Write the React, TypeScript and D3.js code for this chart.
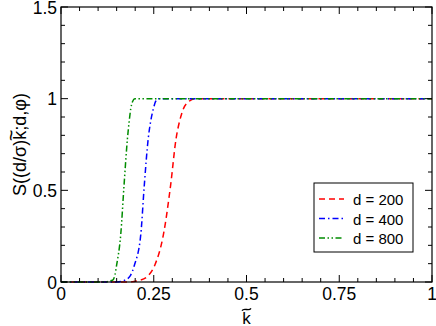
import React from 'react';
import * as d3 from 'd3';

// values: [k, S]
const red200: [number, number][] = [
  [0, 0], [0.18, 0], [0.213, 0.01], [0.235, 0.035], [0.253, 0.093], [0.276, 0.258],
  [0.2956, 0.53], [0.31, 0.78], [0.32, 0.88], [0.33, 0.945], [0.345, 0.985], [0.361, 1], [1, 1],
];
const blue400: [number, number][] = [
  [0, 0], [0.15, 0], [0.172, 0.01], [0.187, 0.035], [0.198, 0.093], [0.215, 0.258],
  [0.2246, 0.53], [0.235, 0.78], [0.242, 0.88], [0.249, 0.945], [0.255, 0.985], [0.262, 1], [1, 1],
];
const green800: [number, number][] = [
  [0, 0], [0.11, 0], [0.139, 0.01], [0.145, 0.035], [0.15, 0.093], [0.161, 0.258],
  [0.17, 0.53], [0.179, 0.78], [0.184, 0.88], [0.188, 0.945], [0.193, 0.985], [0.199, 1], [1, 1],
];

const seriesNames = ['d = 200', 'd = 400', 'd = 800'];
const xMajor = [0, 0.25, 0.5, 0.75, 1];
const xMajorLabels = ['0', '0.25', '0.5', '0.75', '1'];
const yMajor = [0, 0.5, 1, 1.5];
const yMajorLabels = ['0', '0.5', '1', '1.5'];

const W = 436;
const H = 326;
const left = 61, right = 432, top = 7, bottom = 282;
const font = 'Liberation Sans, Arial, Helvetica, sans-serif';

// small tilde accent centred on (cx, cy)
const tildePath = (cx: number, cy: number, w: number) =>
  `M${cx - w / 2},${cy + 1.2} C${cx - w / 4},${cy - 2.5} ${cx + w / 4},${cy + 2.5} ${cx + w / 2},${cy - 1.2}`;

export default function App() {
  const x = d3.scaleLinear().domain([0, 1]).range([left, right]);
  const y = d3.scaleLinear().domain([0, 1.5]).range([bottom, top]);

  const line = d3.line<[number, number]>()
    .x(d => x(d[0]))
    .y(d => y(d[1]))
    .curve(d3.curveMonotoneX);

  const series = [
    { data: red200, color: '#ff0000', dash: '6,4' },
    { data: blue400, color: '#0000ff', dash: '6,3,1.5,3' },
    { data: green800, color: '#008c00', dash: '6,2.5,1.5,2.5,1.5,2.5' },
  ];

  const xMinor = d3.range(0, 1.0001, 0.05).filter(v => !xMajor.some(m => Math.abs(m - v) < 1e-6));
  const yMinor = d3.range(0, 1.5001, 0.1).filter(v => !yMajor.some(m => Math.abs(m - v) < 1e-6));
  const major = 7, minor = 4;

  const legX = 314, legY = 183, legW = 99, legH = 69;
  const rowY = [199, 218.5, 238];

  return (
    <div style={{ position: 'absolute', left: 0, top: 0 }}>
      <svg width={W} height={H} style={{ display: 'block', background: '#fff' }}>
        <rect x={0} y={0} width={W} height={H} fill="#fff" />
        {series.map((s, i) => (
          <path key={i} d={line(s.data) || ''} fill="none" stroke={s.color}
            strokeWidth={1.5} strokeDasharray={s.dash} />
        ))}
        <rect x={left} y={top} width={right - left} height={bottom - top}
          fill="none" stroke="#000" strokeWidth={1.2} />
        {/* ticks, inward on all four sides */}
        <g stroke="#000" strokeWidth={1}>
          {xMajor.map(v => (
            <g key={'xM' + v}>
              <line x1={x(v)} x2={x(v)} y1={bottom} y2={bottom - major} />
              <line x1={x(v)} x2={x(v)} y1={top} y2={top + major} />
            </g>
          ))}
          {xMinor.map(v => (
            <g key={'xm' + v}>
              <line x1={x(v)} x2={x(v)} y1={bottom} y2={bottom - minor} />
              <line x1={x(v)} x2={x(v)} y1={top} y2={top + minor} />
            </g>
          ))}
          {yMajor.map(v => (
            <g key={'yM' + v}>
              <line x1={left} x2={left + major} y1={y(v)} y2={y(v)} />
              <line x1={right} x2={right - major} y1={y(v)} y2={y(v)} />
            </g>
          ))}
          {yMinor.map(v => (
            <g key={'ym' + v}>
              <line x1={left} x2={left + minor} y1={y(v)} y2={y(v)} />
              <line x1={right} x2={right - minor} y1={y(v)} y2={y(v)} />
            </g>
          ))}
        </g>
        <g fontFamily={font} fontSize={17.5} fill="#000">
          {xMajor.map((v, i) => (
            <text key={'xl' + v} x={x(v)} y={bottom + 17.5} textAnchor="middle">{xMajorLabels[i]}</text>
          ))}
          {yMajor.map((v, i) => (
            <text key={'yl' + v} x={left - 4} y={y(v) + 6.5} textAnchor="end">{yMajorLabels[i]}</text>
          ))}
        </g>
        {/* x label: k with tilde */}
        <text x={x(0.5)} y={324} textAnchor="middle" fontFamily={font} fontSize={17}>k</text>
        <path d={tildePath(x(0.5), 309.5, 9)} fill="none" stroke="#000" strokeWidth={1.3} />
        {/* y label */}
        <text transform={`translate(26,${(top + bottom) / 2}) rotate(-90)`} textAnchor="middle"
          fontFamily={font} fontSize={18}>
          <tspan>S((d/σ)k</tspan>
          <tspan dx={-10.4} dy={-8} fontSize={20}>~</tspan>
          <tspan dx={-1.3} dy={8}>;d,φ)</tspan>
        </text>
        {/* legend */}
        <rect x={legX} y={legY} width={legW} height={legH} fill="#fff" stroke="#000" strokeWidth={1} />
        {series.map((s, i) => (
          <g key={'lg' + i}>
            <line x1={319} x2={344} y1={rowY[i]} y2={rowY[i]} stroke={s.color}
              strokeWidth={1.5} strokeDasharray={s.dash} />
            <text x={353} y={rowY[i] + 6} fontFamily={font} fontSize={15}>{seriesNames[i]}</text>
          </g>
        ))}
      </svg>
    </div>
  );
}
